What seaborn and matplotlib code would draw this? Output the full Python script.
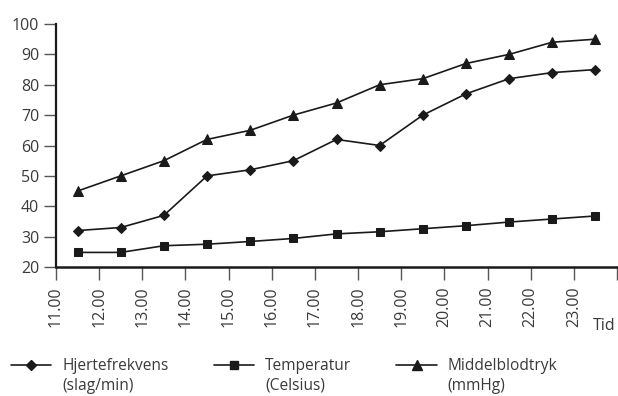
import pandas as pd
import seaborn as sns
import matplotlib.pyplot as plt
from matplotlib.lines import Line2D

# data
tid = [11.5, 12.5, 13.5, 14.5, 15.5, 16.5, 17.5, 18.5, 19.5, 20.5, 21.5, 22.5, 23.5]
hjerte = [32, 33, 37, 50, 52, 55, 62, 60, 70, 77, 82, 84, 85]
temperatur = [24.8, 24.8, 27, 27.5, 28.4, 29.4, 30.9, 31.6, 32.6, 33.6, 34.8, 35.8, 36.8]
blodtryk = [45, 50, 55, 62, 65, 70, 74, 80, 82, 87, 90, 94, 95]
tick_pos = [11, 12, 13, 14, 15, 16, 17, 18, 19, 20, 21, 22, 23, 24]
tick_labels = ['11.00', '12.00', '13.00', '14.00', '15.00', '16.00', '17.00',
               '18.00', '19.00', '20.00', '21.00', '22.00', '23.00', '']
serie_navne = ['Hjertefrekvens', 'Temperatur', 'Middelblodtryk']
enheder = ['(slag/min)', '(Celsius)', '(mmHg)']

df = pd.DataFrame({'tid': tid, 'Hjertefrekvens': hjerte,
                   'Temperatur': temperatur, 'Middelblodtryk': blodtryk})

sns.set_style('ticks')
plt.rcParams['font.family'] = ['Open Sans', 'DejaVu Sans']
txt = '#3a3a3a'
ink = '#1a1a1a'
fs = 11.5
fs_leg = 11.2

fig = plt.figure(figsize=(6.18, 3.96), dpi=100)
ax = fig.add_axes([56 / 618, 1 - 267 / 396, 561 / 618, 243 / 396])

markers = {'Hjertefrekvens': ('D', 5), 'Temperatur': ('s', 6), 'Middelblodtryk': ('^', 7)}
for navn in serie_navne:
    m, ms = markers[navn]
    sns.lineplot(data=df, x='tid', y=navn, ax=ax, color=ink, lw=1.2,
                 marker=m, markersize=ms, markeredgecolor=ink, markerfacecolor=ink)

ax.set_xlim(11, 24)
ax.set_ylim(20, 100)
ax.set_yticks(range(20, 101, 10))
ax.set_xticks(tick_pos)
ax.set_xticklabels(tick_labels, rotation=90)
ax.set_xlabel('')
ax.set_ylabel('')
sns.despine(ax=ax)
ax.spines['left'].set_linewidth(1.6)
ax.spines['bottom'].set_linewidth(1.8)
ax.spines['left'].set_color(ink)
ax.spines['bottom'].set_color(ink)
ax.tick_params(axis='both', length=9, width=1.0, color='#555555',
               labelsize=fs, labelcolor=txt, pad=3)
ax.tick_params(axis='x', pad=5)

fig.text(604 / 618, 1 - 326 / 396, 'Tid', ha='center', va='center',
         fontsize=fs, color=txt)

handles = [Line2D([], [], color=ink, lw=1.2, marker=markers[n][0],
                  markersize=markers[n][1], markerfacecolor=ink, markeredgecolor=ink)
           for n in serie_navne]
leg = fig.legend(handles, serie_navne, loc='upper left', ncol=3,
                 bbox_to_anchor=(11 / 618, 1 - 358 / 396), frameon=False,
                 fontsize=fs_leg, handlelength=2.6, handletextpad=0.7,
                 columnspacing=2.9, borderpad=0, borderaxespad=0)
for t in leg.get_texts():
    t.set_color(txt)

# second legend line with units
fig.canvas.draw()
inv = fig.transFigure.inverted()
for t, enhed in zip(leg.get_texts(), enheder):
    bb = t.get_window_extent()
    x0, y0 = inv.transform((bb.x0, bb.y0))
    fig.text(x0, y0 - 4 / 396, enhed, ha='left', va='top', fontsize=fs_leg, color=txt)

fig.savefig('out.png', dpi=100)
